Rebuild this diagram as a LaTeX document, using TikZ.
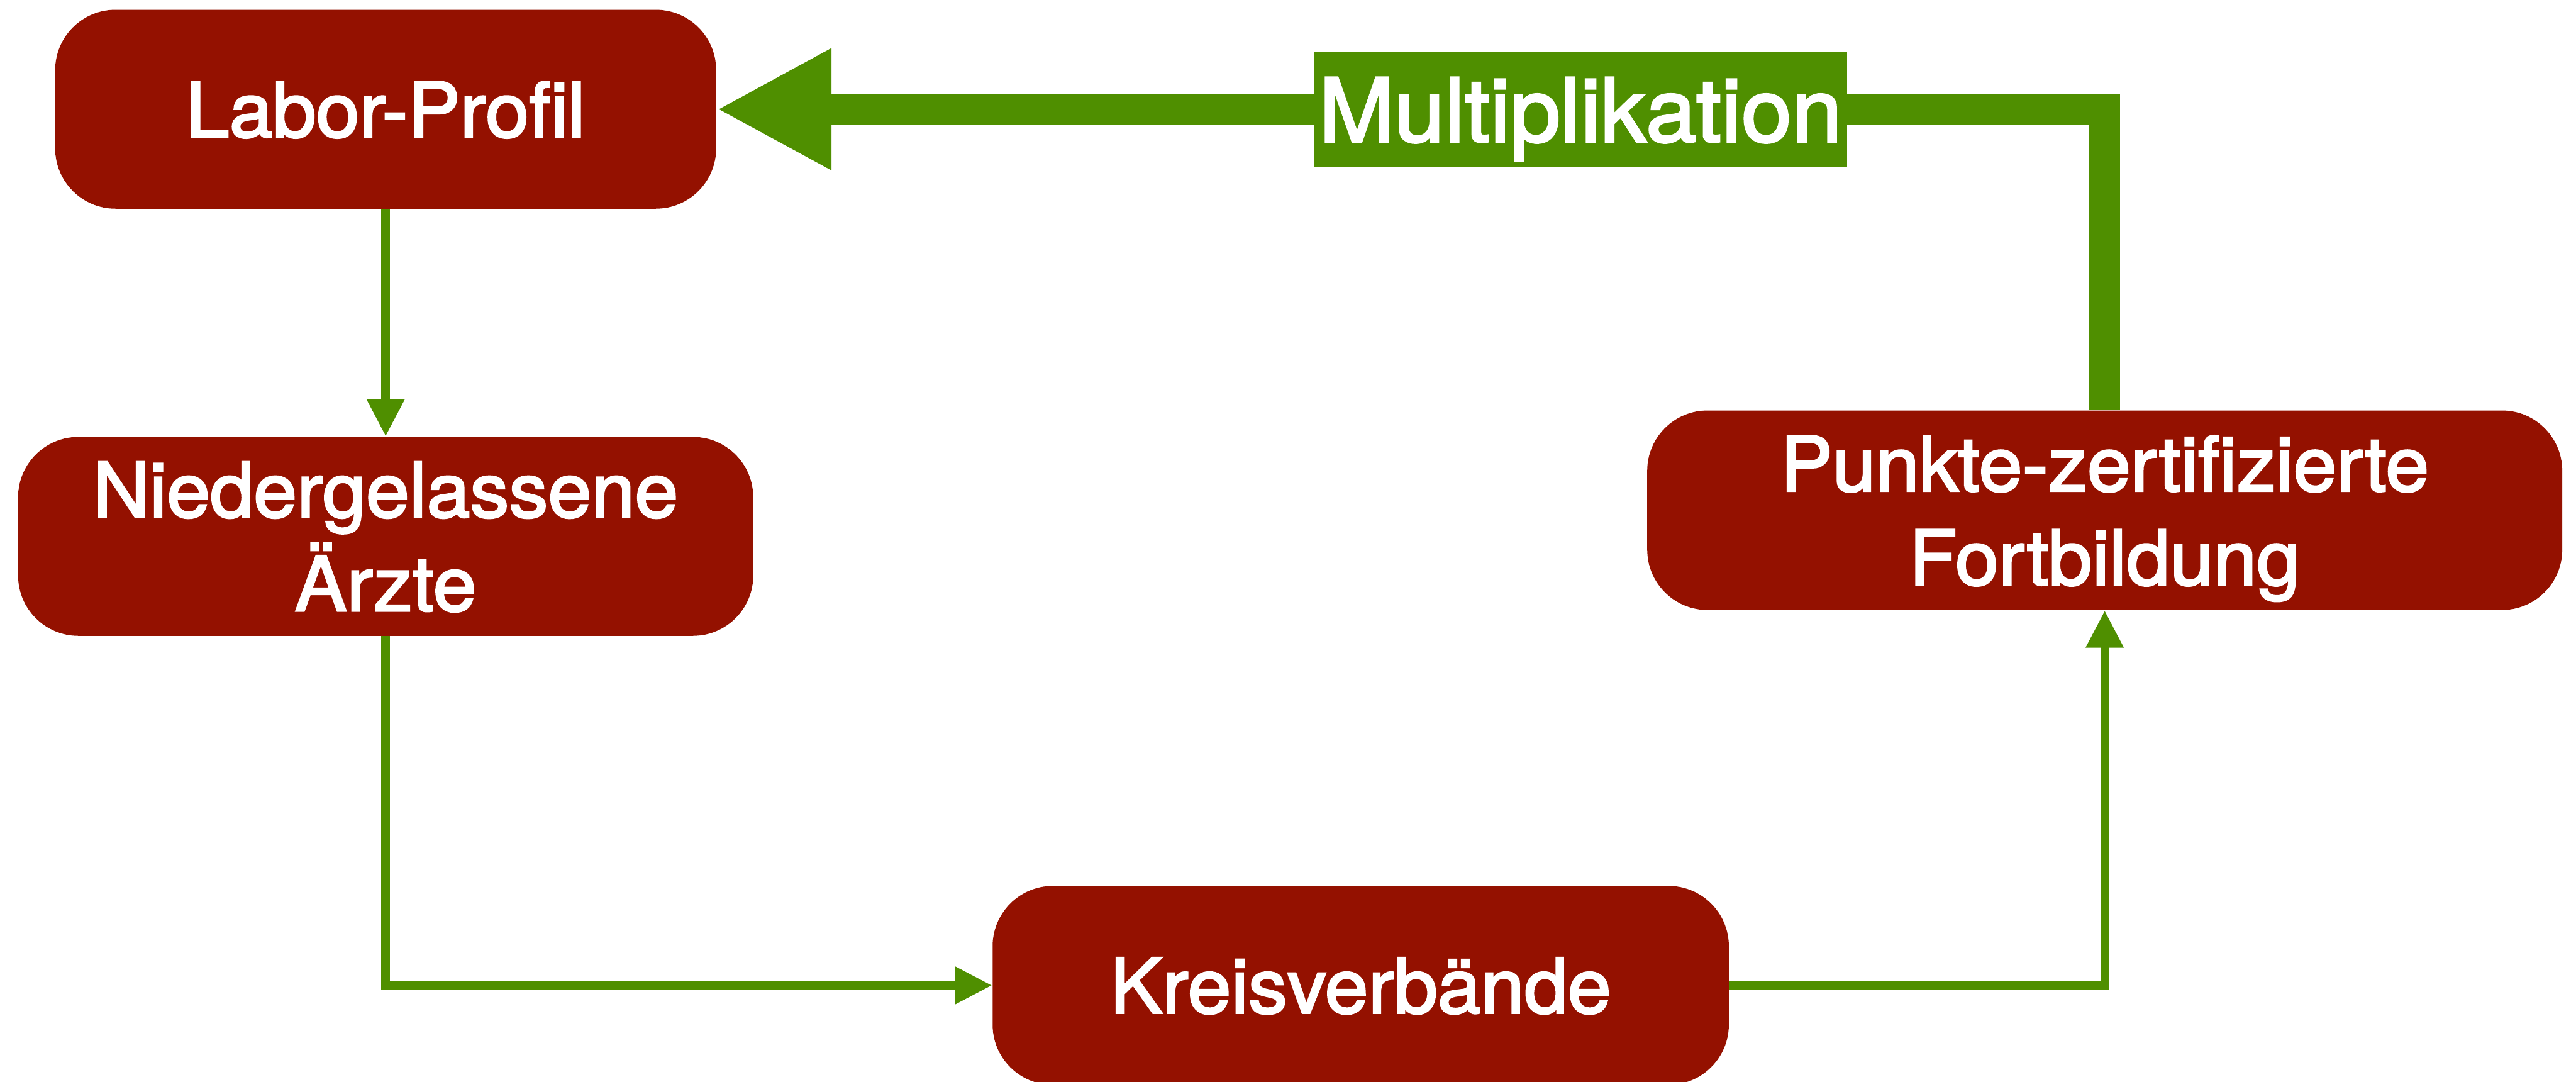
\documentclass[tikz,border=0pt]{standalone}
\usepackage{fontspec}
\setmainfont{TeX Gyre Heros}[FakeStretch=1.03,FakeBold=2.5]
\usepackage{xcolor}
\usetikzlibrary{arrows.meta}
\definecolor{cayenne}{HTML}{941100}
\definecolor{clover}{HTML}{4F8F00}
\tikzstyle{block} = [rectangle, fill=cayenne, rounded corners=1.05cm, text=white, align=center, inner sep=0pt, minimum height=3.46cm, text depth=0pt, font=\fontsize{37.5}{46.4}\selectfont]
\tikzstyle{line} = [draw=clover, line width=0.155cm, -{Triangle[length=0.65cm,width=0.62cm]}]
\tikzstyle{bigline} = [draw=clover, line width=0.54cm, -{Triangle[length=2cm,width=1.97cm]}]
\tikzstyle{tag} = [rectangle, fill=clover, text=white, inner sep=0pt, minimum width=9.28cm, minimum height=1.99cm, text depth=0pt, font=\fontsize{43.5}{52}\selectfont]

\begin{document}
\begin{tikzpicture}
\useasboundingbox (0,0) rectangle (44.82,-18.81);
\node [block, minimum width=11.50cm] (p1) at (6.71,-1.90) {Labor-Profil};
\node [block, minimum width=12.79cm] (p2) at (6.71,-9.33) {Niedergelassene\\Ärzte};
\node [block, minimum width=12.81cm] (p3) at (23.675,-17.14) {Kreisverbände};
\node [block, minimum width=15.92cm, minimum height=3.47cm] (p4) at (36.62,-8.875) {Punkte-zertifizierte\\Fortbildung};

\path [line] (p1) -- (p2);
\path [line] (p2.south) |- (p3.west);
\path [line] (p3.east) -| (p4.south);
\path [bigline] (p4.north) |- (p1.east);

\node [tag] (p5) at (27.50,-1.905) {Multiplikation};
\end{tikzpicture}
\end{document}
